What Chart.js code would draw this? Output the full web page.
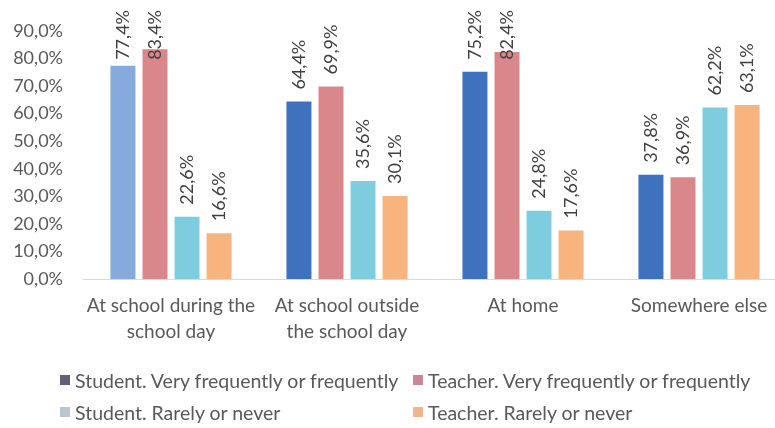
<!DOCTYPE html>
<html>
<head>
<meta charset="utf-8">
<script src="https://cdn.jsdelivr.net/npm/chart.js@4/dist/chart.umd.min.js"></script>
<style>
  html, body { margin: 0; padding: 0; background: #ffffff; overflow: hidden; }
  #wrap { position: relative; width: 800px; height: 428px; }
  #legend { position: absolute; left: 0; top: 0; width: 800px; height: 428px; pointer-events: none;
            font-family: Lato, "Open Sans", sans-serif; font-size: 19.5px; color: #595959; }
  .item { position: absolute; display: flex; align-items: center; white-space: nowrap; height: 24px; }
  .box { width: 10px; height: 10px; margin-right: 5px; flex: none; }
</style>
</head>
<body>
<div id="wrap">
  <canvas id="chart"></canvas>
  <div id="legend"></div>
</div>
<script>
// Where the device is used
const categories = [
  ["At school during the", "school day"],
  ["At school outside", "the school day"],
  "At home",
  "Somewhere else"
];

const seriesNames = [
  "Student. Very frequently or frequently",
  "Teacher. Very frequently or frequently",
  "Student. Rarely or never",
  "Teacher. Rarely or never"
];

const studentFrequent = [77.4, 64.4, 75.2, 37.8];
const teacherFrequent = [83.4, 69.9, 82.4, 36.9];
const studentRarely   = [22.6, 35.6, 24.8, 62.2];
const teacherRarely   = [16.6, 30.1, 17.6, 63.1];

const yTicks = [0, 10, 20, 30, 40, 50, 60, 70, 80, 90];

const seriesValues = [studentFrequent, teacherFrequent, studentRarely, teacherRarely];
const barColors = [
  ["#86aadb", "#3e72bf", "#3e72bf", "#3e72bf"],
  "#d9878b",
  "#7dcddf",
  "#f8b47f"
];
const legendColors = ["#5f5f78", "#c98796", "#b8c6d0", "#f0b58c"];

const fmt = v => v.toFixed(1).replace('.', ',') + '%';
const FONT = 'Lato, "Open Sans", sans-serif';

// Vertical value labels above each bar, kept inside the top of the canvas
const valueLabels = {
  id: 'valueLabels',
  afterDatasetsDraw(chart) {
    const ctx = chart.ctx;
    ctx.save();
    ctx.font = '18px ' + FONT;
    ctx.fillStyle = '#404040';
    ctx.textAlign = 'left';
    ctx.textBaseline = 'middle';
    chart.data.datasets.forEach((ds, di) => {
      const meta = chart.getDatasetMeta(di);
      meta.data.forEach((bar, i) => {
        const text = fmt(ds.data[i]);
        const w = ctx.measureText(text).width;
        let start = bar.y - 12;
        if (start - w < 10) start = 10 + w;
        ctx.save();
        ctx.translate(bar.x, start);
        ctx.rotate(-Math.PI / 2);
        ctx.fillText(text, 0, 0);
        ctx.restore();
      });
    });
    ctx.restore();
  }
};

const chart = new Chart(document.getElementById('chart'), {
  type: 'bar',
  data: {
    labels: categories,
    datasets: seriesNames.map((name, i) => ({
      label: name,
      data: seriesValues[i],
      backgroundColor: barColors[i],
      borderWidth: 0,
      categoryPercentage: 0.728,
      barPercentage: 0.78
    }))
  },
  options: {
    responsive: true,
    maintainAspectRatio: false,
    animation: false,
    layout: { padding: { top: 31, right: 13, bottom: 0, left: 0 } },
    plugins: { legend: { display: false }, tooltip: { enabled: false } },
    scales: {
      x: {
        grid: { display: false, drawTicks: false },
        border: { display: true, color: '#d9d9d9', width: 1 },
        ticks: {
          color: '#595959',
          font: { family: FONT, size: 19, lineHeight: 1.35 },
          padding: 14,
          maxRotation: 0,
          autoSkip: false
        },
        afterFit(s) { s.height = 149; }
      },
      y: {
        min: 0,
        max: 90,
        grid: { display: false, drawTicks: false },
        border: { display: false },
        afterBuildTicks(s) { s.ticks = yTicks.map(v => ({ value: v })); },
        ticks: {
          color: '#595959',
          font: { family: FONT, size: 18 },
          padding: 20,
          callback: v => fmt(v)
        },
        afterFit(s) { s.width = 83; }
      }
    }
  },
  plugins: [valueLabels]
});

// Two-column legend below the axis
const legend = document.getElementById('legend');
const legendPos = [[60, 368], [413, 368], [60, 400], [413, 400]];
seriesNames.forEach((name, i) => {
  const item = document.createElement('div');
  item.className = 'item';
  item.style.left = legendPos[i][0] + 'px';
  item.style.top = legendPos[i][1] + 'px';
  const box = document.createElement('span');
  box.className = 'box';
  box.style.background = legendColors[i];
  const txt = document.createElement('span');
  txt.textContent = name;
  item.appendChild(box);
  item.appendChild(txt);
  legend.appendChild(item);
});
</script>
</body>
</html>
